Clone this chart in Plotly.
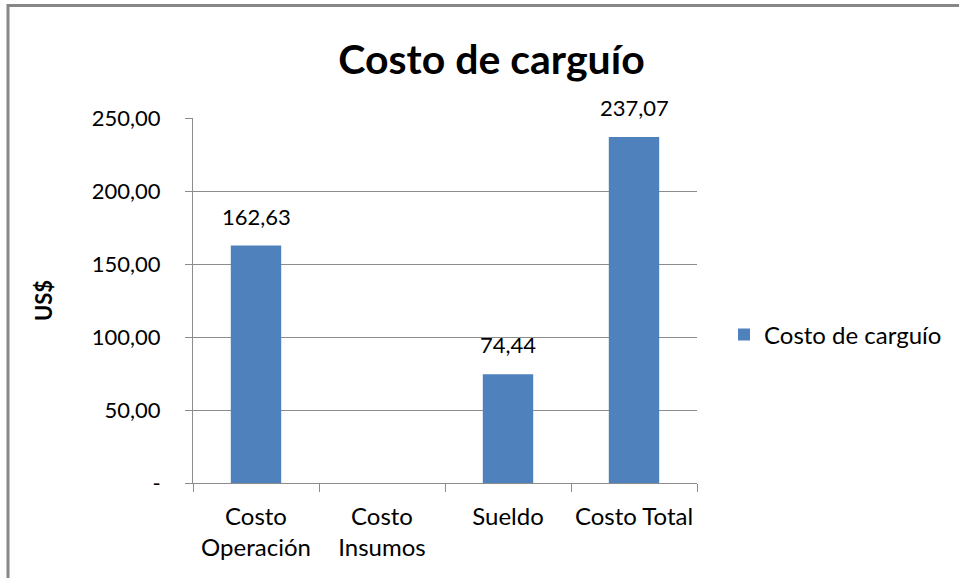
import plotly.graph_objects as go

# Loading-cost breakdown (US$)
categories = ["Costo<br>Operación", "Costo<br>Insumos", "Sueldo", "Costo Total"]
costs = [162.63, None, 74.44, 237.07]
tick_values = [0, 50, 100, 150, 200, 250]
tick_labels = ["-", "50,00", "100,00", "150,00", "200,00", "250,00"]

W, H = 959, 578
FONT = "Lato"
GRID = "#8c8c8c"

fig = go.Figure(
    go.Bar(
        x=categories,
        y=costs,
        name="Costo de carguío",
        marker=dict(color="#4F81BD", line=dict(width=0)),
        width=0.4,
    )
)

# Value labels above each bar
for cat, val in zip(categories, costs):
    if val is None:
        continue
    fig.add_annotation(
        x=cat,
        y=val,
        text=f"{val:.2f}".replace(".", ","),
        showarrow=False,
        yanchor="bottom",
        yshift=14,
        font=dict(family=FONT, size=22, color="black"),
    )

fig.update_layout(
    width=W,
    height=H,
    separators=",.",
    paper_bgcolor="white",
    plot_bgcolor="white",
    margin=dict(l=193, r=W - 697, t=118, b=H - 483, autoexpand=False),
    title=dict(
        text="<b>Costo de carguío</b>",
        x=(329 + 654) / 2 / W,
        xanchor="center",
        y=1 - 60 / H,
        yanchor="middle",
        font=dict(family=FONT, size=41, color="black"),
    ),
    showlegend=True,
    legend=dict(
        x=(724 - 193) / 504,
        xanchor="left",
        y=(483 - 335) / 365,
        yanchor="middle",
        font=dict(family=FONT, size=24, color="black"),
        bgcolor="rgba(0,0,0,0)",
        itemwidth=30,
    ),
    font=dict(family=FONT, size=22, color="black"),
)

fig.update_xaxes(
    automargin=False,
    tickangle=0,
    showgrid=False,
    showline=True,
    linecolor=GRID,
    linewidth=1,
    ticks="outside",
    tickson="boundaries",
    ticklen=8,
    tickcolor=GRID,
    ticklabelstandoff=12,
    tickfont=dict(family=FONT, size=24, color="black"),
)

fig.update_yaxes(
    automargin=False,
    range=[0, 250],
    tickvals=tick_values,
    ticktext=tick_labels,
    showgrid=True,
    gridcolor=GRID,
    gridwidth=1,
    showline=True,
    linecolor=GRID,
    linewidth=1,
    ticks="outside",
    ticklen=7,
    tickcolor=GRID,
    ticklabelstandoff=20,
    zeroline=False,
    tickfont=dict(family=FONT, size=22, color="black"),
    title=dict(
        text="<b>US$</b>",
        font=dict(family=FONT, size=22, color="black"),
        standoff=33,
    ),
)

# Outer chart frame (top and left edges visible)
fig.add_shape(
    type="rect",
    xref="paper",
    yref="paper",
    x0=-185 / 504,
    x1=1.6,
    y0=-0.5,
    y1=1 + (118 - 5.5) / 365,
    line=dict(color="#878787", width=3),
    layer="below",
)

fig.write_html("out.html")
